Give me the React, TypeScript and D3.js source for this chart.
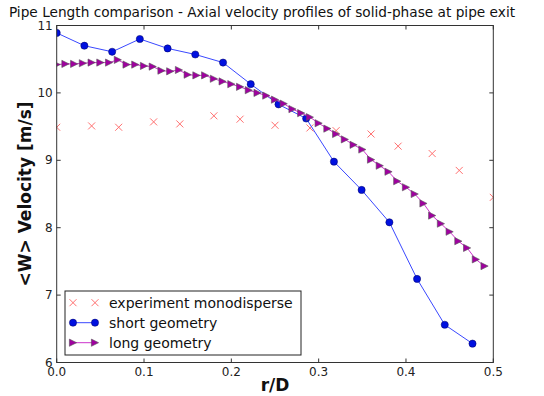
import React from "react";
import * as d3 from "d3";

const shortR = [0, 0.0317, 0.0635, 0.0952, 0.127, 0.1587, 0.1905, 0.2222, 0.254, 0.2857, 0.3175, 0.3492, 0.381, 0.4127, 0.4444, 0.4762];
const shortV = [10.89, 10.70, 10.61, 10.80, 10.66, 10.57, 10.45, 10.13, 9.83, 9.62, 8.98, 8.56, 8.08, 7.24, 6.56, 6.28];

const longR = d3.range(50).map((i) => i / 100);
const longV = [
  10.42, 10.43, 10.43, 10.44, 10.45, 10.45, 10.45, 10.49, 10.42, 10.42,
  10.40, 10.39, 10.33, 10.32, 10.34, 10.27, 10.26, 10.26, 10.21, 10.17,
  10.13, 10.09, 10.04, 10.00, 9.96, 9.90, 9.84, 9.76, 9.70, 9.64,
  9.55, 9.47, 9.39, 9.31, 9.23, 9.16, 9.01, 8.92, 8.83, 8.69,
  8.60, 8.50, 8.36, 8.18, 8.06, 7.94, 7.80, 7.70, 7.53, 7.43,
];

const expR = [0, 0.04, 0.071, 0.111, 0.141, 0.18, 0.21, 0.25, 0.29, 0.32, 0.36, 0.391, 0.43, 0.461, 0.5];
const expV = [9.49, 9.51, 9.49, 9.57, 9.54, 9.66, 9.61, 9.52, 9.48, 9.44, 9.39, 9.21, 9.10, 8.85, 8.45];

const xTicks = [0, 0.1, 0.2, 0.3, 0.4, 0.5];
const yTicks = [6, 7, 8, 9, 10, 11];

const title = "Pipe Length comparison - Axial velocity profiles of solid-phase at pipe exit";
const legendLabels = ["experiment monodisperse", "short geometry", "long geometry"];

const W = 544, H = 396;
const L = 56.7, R = 493.3, T = 25.5, B = 362.5;
const FONT = "DejaVu Sans, sans-serif";

const xScale = d3.scaleLinear().domain([0, 0.5]).range([L, R]);
const yScale = d3.scaleLinear().domain([6, 11]).range([B, T]);

const SHORT_LINE = "#3a48ff";
const SHORT_FILL = "#0010e0";
const LONG_LINE = "#cc33cc";
const LONG_FILL = "#a000a0";
const EXP = "#ff7070";

function XMark({ x, y }: { x: number; y: number }) {
  const s = 3.5;
  return (
    <path d={`M${x - s},${y - s}L${x + s},${y + s}M${x - s},${y + s}L${x + s},${y - s}`} stroke={EXP} strokeWidth={1} fill="none" />
  );
}
function Circ({ x, y }: { x: number; y: number }) {
  return <circle cx={x} cy={y} r={3.6} fill={SHORT_FILL} stroke="#000060" strokeWidth={0.5} />;
}
function Tri({ x, y }: { x: number; y: number }) {
  const s = 3.6;
  return (
    <path d={`M${x + s},${y}L${x - s},${y - s}L${x - s},${y + s}Z`} fill={LONG_FILL} stroke="#555" strokeWidth={0.6} />
  );
}

export default function App() {
  const line = d3.line<[number, number]>().x((d) => xScale(d[0])).y((d) => yScale(d[1]));
  const shortPts: [number, number][] = shortR.map((r, i) => [r, shortV[i]]);
  const longPts: [number, number][] = longR.map((r, i) => [r, longV[i]]);
  const expPts: [number, number][] = expR.map((r, i) => [r, expV[i]]);
  const tickLen = 4;
  const legX = 65, legY = 291, legW = 236, legH = 64;
  const rowY = [302.7, 322.7, 342.7];
  return (
    <svg width={W} height={H} style={{ position: "absolute", left: 0, top: 0 }} fontFamily={FONT}>
      <rect x={0} y={0} width={W} height={H} fill="#fff" />
      <defs>
        <clipPath id="plotclip">
          <rect x={L} y={T} width={R - L} height={B - T} />
        </clipPath>
      </defs>
      <text x={262} y={17} textAnchor="middle" fontSize={13.7} fill="#111">{title}</text>
      <g clipPath="url(#plotclip)">
        {expPts.map((d, i) => <XMark key={i} x={xScale(d[0])} y={yScale(d[1])} />)}
        <path d={line(shortPts) || ""} fill="none" stroke={SHORT_LINE} strokeWidth={1} />
        {shortPts.map((d, i) => <Circ key={i} x={xScale(d[0])} y={yScale(d[1])} />)}
        <path d={line(longPts) || ""} fill="none" stroke={LONG_LINE} strokeWidth={1} />
        {longPts.map((d, i) => <Tri key={i} x={xScale(d[0])} y={yScale(d[1])} />)}
      </g>
      <rect x={L} y={T} width={R - L} height={B - T} fill="none" stroke="#333" strokeWidth={1} />
      {xTicks.map((t) => (
        <g key={"x" + t}>
          <line x1={xScale(t)} x2={xScale(t)} y1={B} y2={B - tickLen} stroke="#333" />
          <line x1={xScale(t)} x2={xScale(t)} y1={T} y2={T + tickLen} stroke="#333" />
          <text x={xScale(t)} y={B + 13} textAnchor="middle" fontSize={12} fill="#222">{t.toFixed(1)}</text>
        </g>
      ))}
      {yTicks.map((t) => (
        <g key={"y" + t}>
          <line x1={L} x2={L + tickLen} y1={yScale(t)} y2={yScale(t)} stroke="#333" />
          <line x1={R} x2={R - tickLen} y1={yScale(t)} y2={yScale(t)} stroke="#333" />
          <text x={L - 4} y={yScale(t) + 4} textAnchor="end" fontSize={12} fill="#222">{t}</text>
        </g>
      ))}
      <text x={(L + R) / 2} y={391} textAnchor="middle" fontSize={17} fontWeight="bold" fill="#111">r/D</text>
      <text transform={`translate(31,${(T + B) / 2}) rotate(-90)`} textAnchor="middle" fontSize={17} fontWeight="bold" fill="#111">{"<W> Velocity [m/s]"}</text>
      <rect x={legX} y={legY} width={legW} height={legH} fill="#fff" stroke="#222" strokeWidth={1} />
      <XMark x={73} y={rowY[0]} />
      <XMark x={95} y={rowY[0]} />
      <line x1={73} x2={95} y1={rowY[1]} y2={rowY[1]} stroke={SHORT_LINE} />
      <Circ x={73} y={rowY[1]} />
      <Circ x={95} y={rowY[1]} />
      <line x1={73} x2={95} y1={rowY[2]} y2={rowY[2]} stroke={LONG_LINE} />
      <Tri x={73} y={rowY[2]} />
      <Tri x={95} y={rowY[2]} />
      {legendLabels.map((s, i) => (
        <text key={s} x={109} y={rowY[i] + 5} fontSize={14} fill="#111">{s}</text>
      ))}
    </svg>
  );
}
